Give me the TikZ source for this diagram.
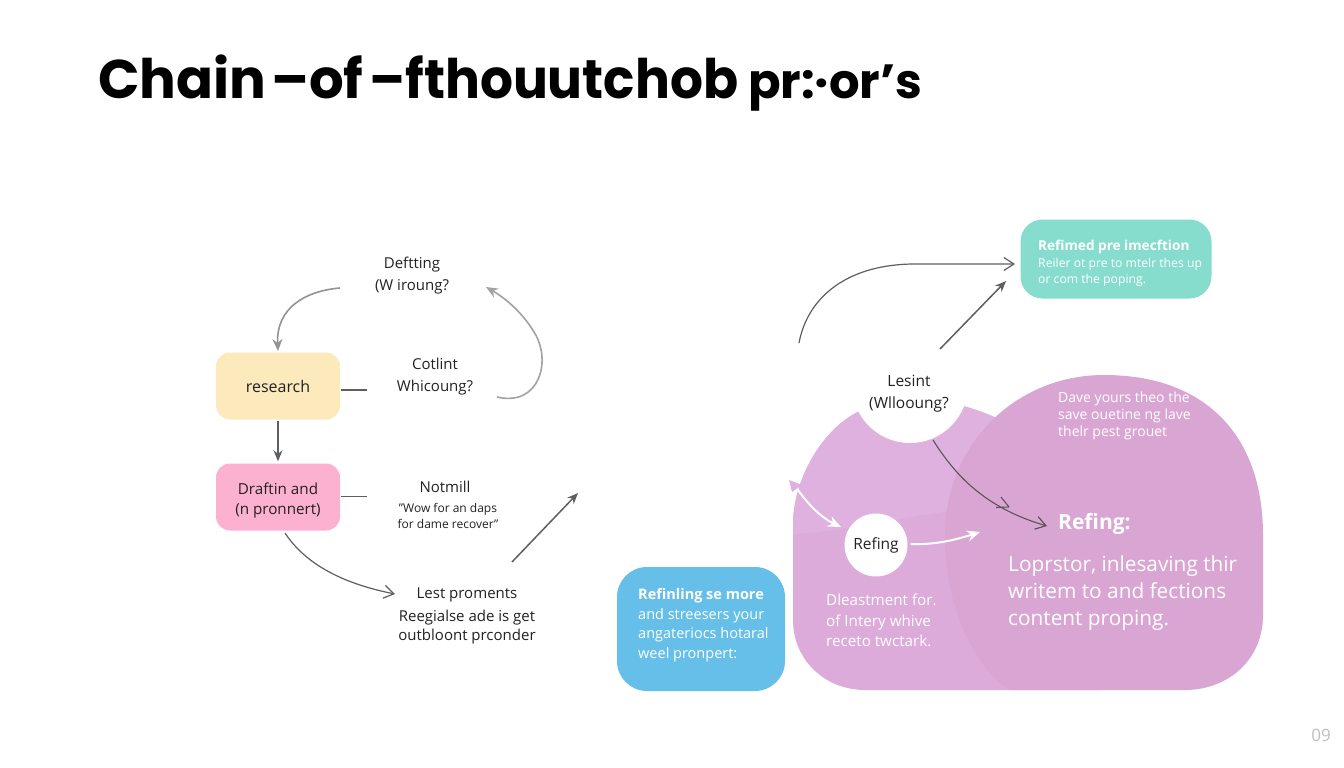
\documentclass[tikz,border=0pt]{standalone}
\usepackage{fontspec}
\setmainfont{Open Sans}
\newfontfamily\titlefont{Poppins}
\usetikzlibrary{arrows.meta,calc}
\definecolor{cyellow}{HTML}{FCE9BC}
\definecolor{cpink}{HTML}{FDB1D0}
\definecolor{cteal}{HTML}{86DDCD}
\definecolor{cblue}{HTML}{66BFE9}
\definecolor{cplighter}{HTML}{DEB1DE}
\definecolor{cpleft}{HTML}{DCABDA}
\definecolor{cpright}{HTML}{D9A6D3}
\definecolor{inkc}{HTML}{222222}
\definecolor{linec}{HTML}{5F5F63}
\definecolor{lineg}{HTML}{A0A2A3}
\tikzset{
 lab/.style={align=center,text=inkc,font=\fontsize{15}{22}\selectfont,inner sep=0pt},
 labsm/.style={align=center,text=inkc,font=\fontsize{12}{15.5}\selectfont,inner sep=0pt},
 wlab/.style={align=left,text=white,inner sep=0pt,anchor=north west},
 box/.style={rounded corners=14pt,minimum width=124pt,minimum height=67pt,inner sep=0pt,align=center,text=inkc},
 arr/.style={draw=linec,line width=1.5pt,-{Stealth[length=11pt,width=9pt]}},
 arrg/.style={draw=lineg,line width=1.6pt,-{Stealth[length=12pt,width=10pt]}},
 arro/.style={draw=linec,line width=1.2pt,-{Straight Barb[length=10pt,width=13pt,line width=1.2pt]}},
 arrw/.style={draw=white,line width=2pt,-{Stealth[length=13pt,width=11pt]}},
 dash line/.style={draw=linec,line width=1.2pt},
}
\begin{document}
\begin{tikzpicture}[x=1pt,y=-1pt]
\useasboundingbox (0,0) rectangle (1344,768);
\fill[white] (0,0) rectangle (1344,768);
\node[anchor=base west,inner sep=0pt,font=\titlefont\fontsize{54.5}{60}\selectfont\bfseries,text=black] (title) at (98,98) {Chain\hspace{5pt}–of\hspace{6pt}\scalebox{.95}[1]{–fthouutchob}\hspace{10pt}{\fontsize{48}{60}\selectfont pr:·or’s}};

% left cycle
\node[box,fill=cyellow,font=\fontsize{16}{20}\selectfont] (research) at (278,386) {research};
\node[box,fill=cpink] (draft) at (278,497) {};
\node[lab,font=\fontsize{15.2}{20}\selectfont] (draftlab) at (278,500.5) {Draftin and\\(n pronnert)};
\node[lab] (defining) at (412,276) {Deftting\\(W iroung?};
\node[lab] (content) at (435,377) {Cotlint\\Whicoung?};
\node[lab,anchor=center] (notmill) at (445,487) {Notmill};
\node[labsm] (wow) at (448,516) {"Wow for an daps\\for dame recover"};
\node[lab] (lest) at (467,595) {Lest proments};
\node[lab,font=\fontsize{15}{18.5}\selectfont] (reg) at (467,627) {Reegialse ade is get\\outbloont prconder};

\coordinate (d1) at (340,288);
\coordinate (r1) at (278,351);
\draw[arrg,draw=gray!85] (d1) .. controls (305,291) and (276,308) .. (r1);
\coordinate (c1) at (497,397);
\coordinate (d2) at (486,287);
\draw[arrg] (c1) .. controls (540,407) and (552,360) .. (534,332) .. controls (522,312) and (505,298) .. (d2);
\draw[dash line] ($(research.east)+(1,4)$) coordinate (re) -- ++(26,0) coordinate (ree);
\draw[dash line] ($(draft.east)+(1,-0.5)$) coordinate (de) -- ++(26,0) coordinate (dee);
\draw[arr] ($(research.south)+(0,1)$) -- ($(draft.north)+(0,-2)$);
\coordinate (d3) at (285,533);
\coordinate (l1) at (395,594);
\draw[arro] (d3) .. controls (308,568) and (350,585) .. (l1);
\coordinate (a1) at (512,562);
\coordinate (a2) at (578,493);
\draw[arr] (a1) -- (a2);

% blue
\node[rounded corners=30pt,fill=cblue,minimum width=168pt,minimum height=124pt,inner sep=0pt] (blue) at (701,629) {};
\node[wlab,font=\fontsize{14.5}{19.5}\selectfont,align=left] (bluet) at (638,588.5) {\textbf{Refinling se more}\\and streesers your\\angateriocs hotaral\\weel pronpert:};

% teal
\node[rounded corners=22pt,fill=cteal,minimum width=191pt,minimum height=79pt,inner sep=0pt] (teal) at (1116,259) {};
\node[wlab,font=\fontsize{13.6}{17}\selectfont\bfseries] (tealh) at (1038,240) {Refimed pre imecftion};
\node[wlab,font=\fontsize{12.2}{15.5}\selectfont] (tealt) at (1038,258.5) {Reiler ot pre to mtelr thes up\\or com the poping.};

% blobs
\fill[cpleft] (793,620) -- (793,525) .. controls (793,470) and (835,410) .. (880,405) .. controls (920,395) and (960,400) .. (1005,422) -- (1100,690) -- (865,690) .. controls (825,690) and (793,660) .. (793,620) -- cycle;
\fill[cplighter] (793,525) .. controls (793,470) and (835,410) .. (880,405) .. controls (920,395) and (960,400) .. (1005,422) -- (960,510) .. controls (910,515) and (860,530) .. (793,534) -- cycle;
\fill[cpright] (1104,375) .. controls (1205,375) and (1263,435) .. (1263,535) -- (1263,615) .. controls (1263,660) and (1228,690) .. (1185,690) -- (1010,690) .. controls (970,665) and (945,600) .. (945,535) .. controls (945,445) and (1015,375) .. (1104,375) -- cycle;
\fill[white] (910,385) circle (58);
\node[lab,font=\fontsize{15.5}{22}\selectfont] (lesint) at (909,394) {Lesint\\(Wllooung?};
\node[circle,fill=white,minimum size=63pt,inner sep=0pt,text=inkc,font=\fontsize{15.5}{18}\selectfont] (refc) at (876,545) {\raisebox{-2pt}{Refing}};

\node[wlab,font=\fontsize{14}{16.8}\selectfont] (dave) at (1058,392) {Dave yours theo the\\save ouetine ng lave\\thelr pest grouet};
\node[wlab,font=\fontsize{21}{24}\selectfont\bfseries] (refing) at (1058,513.5) {Refing:};
\node[wlab,font=\fontsize{20.8}{27}\selectfont] (lop) at (1008,555) {Loprstor, inlesaving thir\\writem to and fections\\content proping.};
\node[wlab,font=\fontsize{15.2}{20.5}\selectfont] (dleas) at (826,594) {Dleastment for.\\of Intery whive\\receto twctark.};

% arrows on right
\coordinate (w1) at (799,343);
\coordinate (t1) at (1015,264);
\draw[arro,draw=linec] (w1) .. controls (808,295) and (850,264) .. (915,264) -- (t1);
\coordinate (w2) at (940,349);
\coordinate (t2) at (1006,281);
\draw[arr] (w2) -- (t2);
\coordinate (l2) at (933,440);
\coordinate (r2) at (1047,526);
\draw[arro,draw=cpright!30!black!85,line width=1.1pt] (l2) .. controls (955,475) and (985,508) .. (r2);
\draw[draw=cpright!30!black!85,line width=1.1pt] (1009,507) -- (996,507.5) (1009,507) -- (1001,497);
\coordinate (w3) at (796,487);
\draw[arrw] (w3) .. controls (808,505) and (822,518) .. (841,527);
\fill[cplighter] (789,480) -- (802,485) -- (792,492) -- cycle;
\draw[arrw] ($(refc.east)+(3,-1)$) .. controls (935,545) and (955,540) .. (980,532);
\node[text=black!25,font=\fontsize{17}{18}\selectfont,inner sep=0pt] (pg) at (1321,735) {09};
\end{tikzpicture}
\end{document}
